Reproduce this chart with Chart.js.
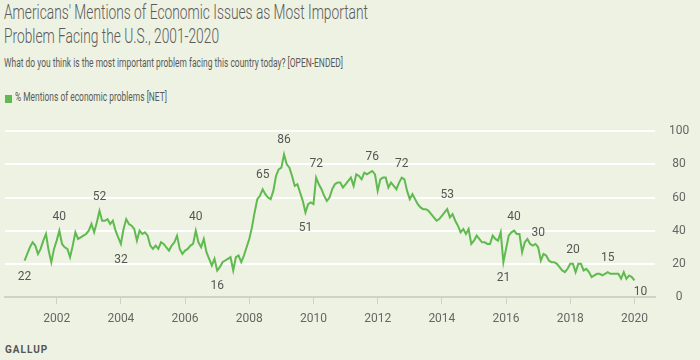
<!DOCTYPE html>
<html>
<head>
<meta charset="utf-8">
<script src="https://cdn.jsdelivr.net/npm/chart.js@4.4.1/dist/chart.umd.min.js"></script>
<style>
  html, body { margin: 0; padding: 0; background: #eef2e2; }
  body { width: 700px; height: 360px; position: relative; overflow: hidden; font-family: Roboto, "Noto Sans", sans-serif; color: #5a5a5a; }
  .txt { position: absolute; left: 4px; white-space: nowrap; transform-origin: 0 0; }
  #t1, #t2 { font-size: 20px; line-height: 20px; font-weight: 300; }
  #t1 { top: 2px; }
  #t2 { top: 26px; }
  #sub { top: 57px; font-size: 12px; line-height: 12px; }
  #legBox { position: absolute; left: 5px; top: 95px; width: 7px; height: 8px; background: #5fba4f; }
  #legTxt { left: 15px; top: 91px; font-size: 12px; line-height: 12px; }
  #brand { left: 5px; top: 345px; font-size: 10px; line-height: 10px; font-weight: 700; letter-spacing: 1px; color: #555; }
  #wrap { position: absolute; left: 0; top: 110px; width: 700px; height: 225px; }
</style>
</head>
<body>
<div class="txt" id="t1">Americans' Mentions of Economic Issues as Most Important</div>
<div class="txt" id="t2">Problem Facing the U.S., 2001-2020</div>
<div class="txt" id="sub">What do you think is the most important problem facing this country today? [OPEN-ENDED]</div>
<div id="legBox"></div>
<div class="txt" id="legTxt">% Mentions of economic problems [NET]</div>
<div class="txt" id="brand">GALLUP</div>
<div id="wrap"><canvas id="chart"></canvas></div>

<script>
// monthly readings, Jan 2001 .. Jan 2020
const startYear = 2001;
const economy = [
  22, 26, 30, 33, 31, 26, 29, 34, 38, 28, 21, 29,   // 2001
  34, 40, 32, 30, 29, 24, 31, 39, 35, 36, 37, 38,   // 2002
  40, 44, 39, 45, 52, 46, 46, 47, 44, 46, 40, 36,   // 2003
  32, 41, 47, 44, 43, 41, 34, 40, 38, 39, 37, 31,   // 2004
  29, 31, 29, 33, 32, 30, 28, 31, 33, 37, 29, 26,   // 2005
  28, 29, 31, 32, 40, 33, 30, 35, 27, 23, 19, 23,   // 2006
  16, 18, 21, 22, 23, 24, 16, 24, 25, 21, 25, 30,   // 2007
  35, 42, 51, 59, 61, 65, 62, 60, 59, 64, 73, 77,   // 2008
  78, 86, 80, 78, 73, 67, 68, 63, 58, 51, 56, 57,   // 2009
  56, 72, 68, 65, 61, 58, 60, 65, 68, 69, 69, 66,   // 2010
  68, 70, 72, 67, 74, 73, 71, 75, 74, 75, 76, 74,   // 2011
  64, 71, 72, 72, 66, 69, 67, 65, 69, 72, 71, 64,   // 2012
  59, 62, 59, 56, 54, 53, 53, 52, 50, 48, 46, 47,   // 2013
  49, 51, 53, 48, 50, 46, 43, 39, 41, 38, 41, 32,   // 2014
  34, 37, 35, 33, 33, 32, 32, 37, 35, 34, 39, 21,   // 2015
  29, 37, 39, 40, 38, 38, 27, 33, 35, 32, 31, 32,   // 2016
  30, 22, 26, 25, 22, 21, 21, 20, 18, 16, 15, 17,   // 2017
  20, 20, 15, 20, 20, 16, 17, 15, 12, 13, 14, 14,   // 2018
  13, 14, 15, 14, 14, 14, 14, 11, 15, 11, 13, 12,   // 2019
  10                                                // 2020
];
const yearTicks = [2002, 2004, 2006, 2008, 2010, 2012, 2014, 2016, 2018, 2020];
const yTicks = [0, 20, 40, 60, 80, 100];
// points that carry a value label
const labelled = [0, 13, 28, 36, 64, 72, 89, 97, 105, 109, 130, 141, 158, 179, 183, 192, 205, 218, 228];
const labelledBelow = [0, 36, 72, 105, 179, 228];

const months = economy.map((v, i) => startYear + i / 12);

// squeeze header text to the narrow look of the original
function fit(id, w) {
  const el = document.getElementById(id);
  const cur = el.getBoundingClientRect().width;
  el.style.transform = `scaleX(${w / cur})`;
  return w / cur;
}
const k = fit("t1", 364);
document.getElementById("t2").style.transform = `scaleX(${k})`;
fit("sub", 339);
fit("legTxt", 152);

const valueLabels = {
  id: "valueLabels",
  afterDatasetsDraw(chart) {
    const ctx = chart.ctx;
    const meta = chart.getDatasetMeta(0);
    ctx.save();
    ctx.font = "12px Roboto, sans-serif";
    ctx.fillStyle = "#555";
    ctx.textAlign = "center";
    ctx.textBaseline = "middle";
    labelled.forEach(i => {
      const pt = meta.data[i];
      const below = labelledBelow.includes(i);
      let dx = 0, dy = below ? 16 : -14;
      if (i === economy.length - 1) { dx = 6; dy = 12; }
      ctx.fillText(String(economy[i]), pt.x + dx, pt.y + dy);
    });
    ctx.restore();
  }
};

new Chart(document.getElementById("chart"), {
  type: "line",
  data: {
    datasets: [{
      label: "% Mentions of economic problems [NET]",
      data: economy.map((v, i) => ({ x: months[i], y: v })),
      borderColor: "#5fba4f",
      borderWidth: 2,
      pointRadius: 0,
      tension: 0,
      fill: false
    }]
  },
  options: {
    responsive: true,
    maintainAspectRatio: false,
    animation: false,
    layout: { padding: { left: 5, top: 13, right: 0, bottom: 0 } },
    plugins: { legend: { display: false }, tooltip: { enabled: false } },
    scales: {
      x: {
        type: "linear",
        min: 2000.39,
        max: 2020.64,
        afterBuildTicks: s => { s.ticks = yearTicks.map(v => ({ value: v })); },
        afterFit: s => { s.height = 38; },
        ticks: {
          autoSkip: false,
          maxRotation: 0,
          padding: 8,
          color: "#666",
          font: { family: "Roboto", size: 12 },
          callback: v => String(v)
        },
        grid: { drawOnChartArea: false, drawTicks: true, tickLength: 7, color: "#cfd3c4", lineWidth: 1 },
        border: { display: true, color: "#cfd3c4", width: 2 }
      },
      y: {
        position: "right",
        min: 0,
        max: 100,
        afterBuildTicks: s => { s.ticks = yTicks.map(v => ({ value: v })); },
        afterFit: s => { s.width = 45; },
        ticks: {
          crossAlign: "center",
          padding: 14,
          color: "#666",
          font: { family: "Roboto", size: 12 }
        },
        grid: {
          drawTicks: false,
          lineWidth: 2,
          color: c => (c.tick && c.tick.value === 0) ? "rgba(0,0,0,0)" : "#ffffff"
        },
        border: { display: false }
      }
    }
  },
  plugins: [valueLabels]
});
</script>
</body>
</html>
